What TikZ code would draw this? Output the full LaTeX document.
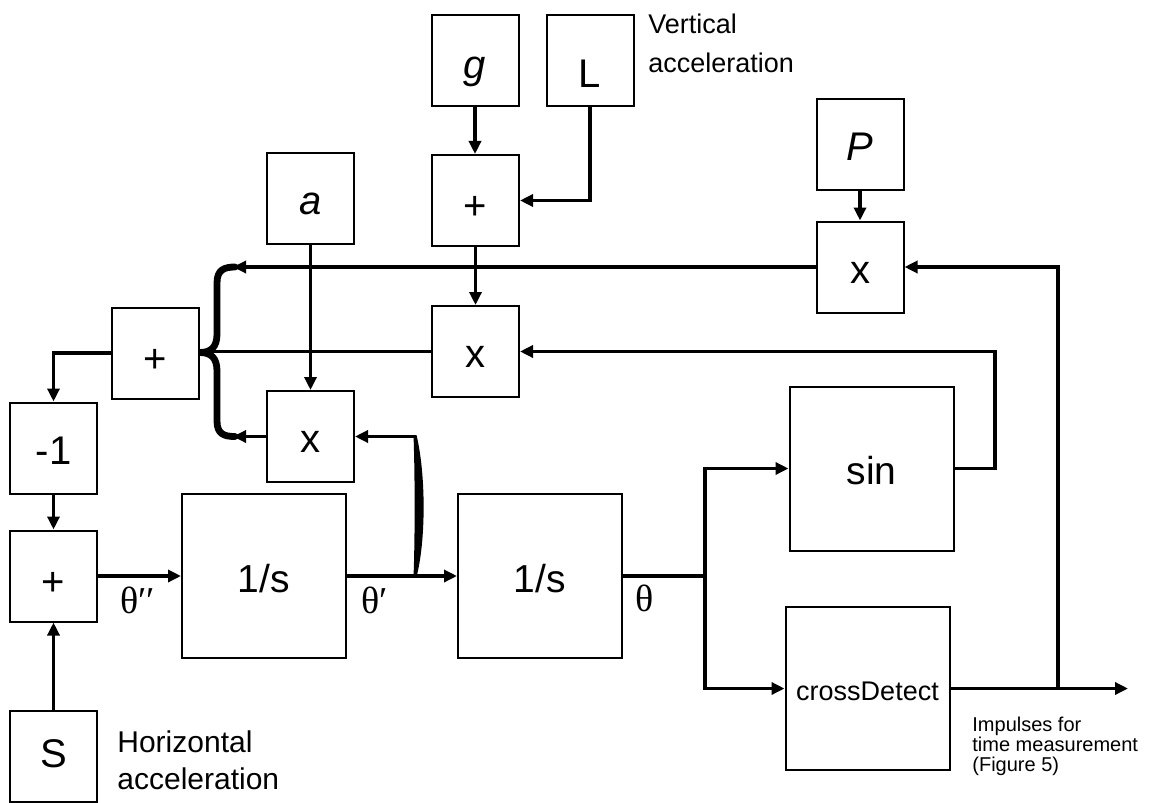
\documentclass[tikz,border=0pt]{standalone}
\usepackage{fontspec}
\setmainfont{Liberation Sans}
\newfontfamily\greekserif{Liberation Serif}
\usetikzlibrary{arrows.meta}
\begin{document}
\begin{tikzpicture}[x=0.5pt,y=-0.5pt,
  % baseline sits (height-depth)/2 below the block centre
  base/.style={text height=#1, text depth=4pt},
  base/.default=20pt,
  blk/.style={draw, line width=1pt, inner sep=0pt, minimum width=43.5pt,
    minimum height=45.5pt, font=\fontsize{20}{24}\selectfont, base},
  bigblk/.style={blk, minimum width=82pt, minimum height=82pt,
    font=\fontsize{19.5}{23}\selectfont},
  wire/.style={line width=1.75pt},
  arr/.style={wire, -{Triangle[length=6.5pt,width=6pt]}},
  sig/.style={inner sep=0pt, font=\greekserif\fontsize{19}{22}\selectfont},
  note/.style={inner sep=0pt, align=left, anchor=north west},
  brace/.style={line width=3.4pt, line cap=round},
]
\useasboundingbox (0,0) rectangle (1154,802);

% sources
\node[blk, base=22pt] (g)  at (475,61)    {\itshape g};
\node[blk, base=31pt] (L)  at (590,61)    {L};
\node[blk] (a)  at (310.5,198.5) {\itshape a};
\node[blk] (P)  at (860,144.5) {\itshape P};
\node[blk, base=15pt] (S)  at (53.5,756)  {S};

% arithmetic blocks
\node[blk, base=23pt] (plusT) at (475.5,200.5) {+};
\node[blk] (xT)    at (860,267)     {x};
\node[blk] (xM)    at (475.5,351.5) {x};
\node[blk, base=23pt] (plusL) at (155.5,353)   {+};
\node[blk] (xL)    at (310.5,436.5) {x};
\node[blk] (m1)    at (53.5,448)    {-1};
\node[blk, base=23.5pt] (plusB) at (53.5,576)    {+};

% integrators and nonlinear blocks
\node[bigblk] (int1) at (264,576)   {1/s};
\node[bigblk] (int2) at (540,576)   {1/s};
\node[bigblk] (sin)  at (871.5,468.5) {sin};
\node[bigblk, minimum height=81.5pt, base=15.5pt,
  font=\fontsize{13.5}{16}\selectfont] (cd) at (867.5,688.5) {crossDetect};

% helper points
\coordinate (bx)    at (233,0);
\coordinate (fbx)   at (415,436.5);
\coordinate (split) at (705,576);
\coordinate (ret)   at (995,0);
\coordinate (imp)   at (1058,0);
\coordinate (out)   at (1128,688.5);

% vertical acceleration path
\draw[arr] (g.south) -- (g.south |- plusT.north);
\draw[arr] (L.south) |- (plusT.east);
\draw[arr] (plusT.south) -- (plusT.south |- xM.north);
\draw[arr] (P.south) -- (P.south |- xT.north);
\draw[arr] (a.south) -- (a.south |- xL.north);

% products collected into the summer
\draw[arr] (xT.west) -- (xT.west -| bx);
\draw[wire] (xM.west) -- (xM.west -| plusL.east);
\draw[arr] (xL.west) -- (xL.west -| bx);
\draw[brace] (235,267) .. controls (224,267) and (217,270) .. (217,283)
  -- (217,334) .. controls (217,347) and (211,352.5) .. (200,352.5)
  .. controls (211,352.5) and (217,358) .. (217,371)
  -- (217,421) .. controls (217,434) and (224,436.5) .. (235,436.5);

% summer, gain and input
\draw[arr] (plusL.west) -| (m1.north);
\draw[arr] (m1.south) -- (plusB.north);
\draw[arr] (S.north) -- (plusB.south);

% integrator chain
\draw[arr] (plusB.east) -- (int1.west);
\draw[arr] (int1.east) -- (int2.west);
\fill (413.5,435) -- (416.5,435) .. controls (426,475) and (426,540) .. (416.5,577)
  -- (413.5,577) .. controls (415,540) and (415,475) .. (413.5,435) -- cycle;
\draw[arr] (fbx) -- (xL.east);
\draw[wire] (int2.east) -- (split);
\draw[arr] (split) |- (sin.west);
\draw[arr] (split) |- (cd.west);

% feedback and output
\draw[arr] (sin.east) -| (ret |- xM.east) -- (xM.east);
\draw[arr] (cd.east) -- (out);
\draw[arr] (cd.east -| imp) |- (xT.east);

% signal labels
\node[sig] at (137.5,600) {θ′′};
\node[sig] at (375,600)   {θ′};
\node[sig] at (645,598)   {θ};

% annotations
\node[note, font=\fontsize{13.5}{19.5}\selectfont] at (648,14)
  {Vertical\\acceleration};
\node[note, font=\fontsize{15}{18.5}\selectfont] at (117,730)
  {Horizontal\\acceleration};
\node[note, font=\fontsize{10}{10}\selectfont] at (972,717)
  {Impulses for\\time measurement\\(Figure 5)};
\end{tikzpicture}
\end{document}
